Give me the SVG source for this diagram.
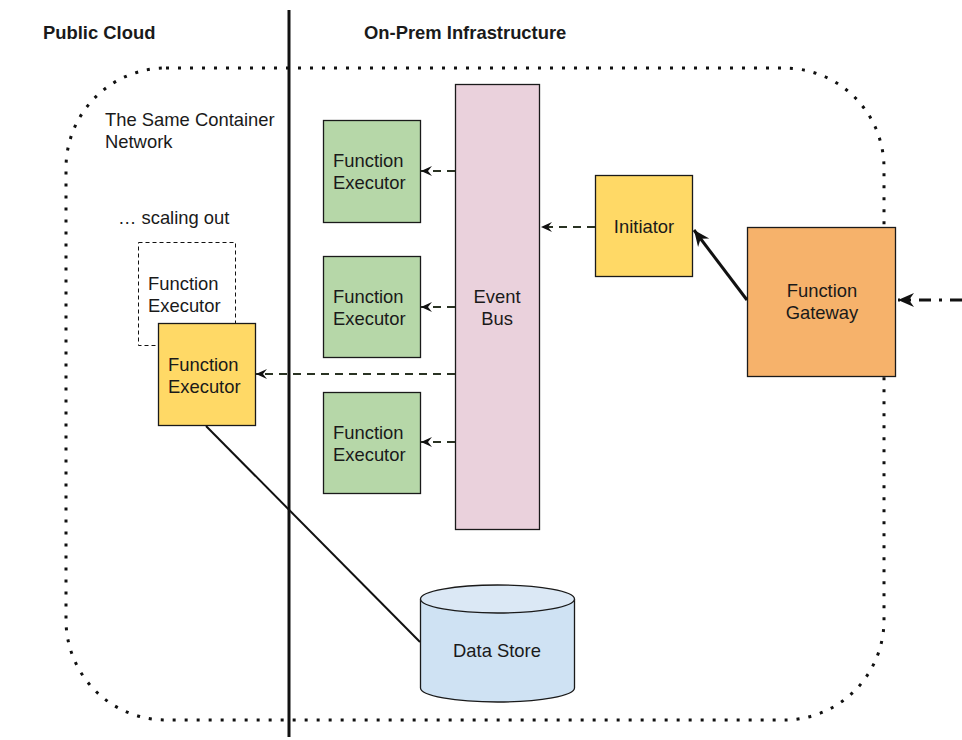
<svg xmlns="http://www.w3.org/2000/svg" width="962" height="740" viewBox="0 0 962 740">
<style>
text{font-family:"Liberation Sans",Arial,sans-serif;font-size:18.4px;fill:#1a1a1a}
.b{font-weight:bold}
.c{text-anchor:middle}
.box{stroke:#1a1a1a;stroke-width:1.3}
.dash{fill:none;stroke:#2a3323;stroke-width:2;stroke-dasharray:8 6}
</style>
<defs>
<marker id="ah" markerWidth="14" markerHeight="12" viewBox="-12 -6 14 12" refX="0" refY="0" orient="auto" markerUnits="userSpaceOnUse">
<path d="M0,0 L-11,-5 L-7,0 L-11,5 Z" fill="#111"/>
</marker>
<marker id="ahb" markerWidth="20" markerHeight="16" viewBox="-18 -8 20 16" refX="0" refY="0" orient="auto" markerUnits="userSpaceOnUse">
<path d="M0,0 L-16,-7 L-11,0 L-16,7 Z" fill="#111"/>
</marker>
</defs>
<rect width="962" height="740" fill="#fff"/>
<g id="network">
<rect x="66" y="68" width="818" height="652" rx="100" ry="100" fill="none" stroke="#111" stroke-width="3" stroke-dasharray="3 9"/>
<text x="105" y="126">The Same Container</text>
<text x="105" y="148">Network</text>
</g>
<g id="divider">
<line x1="289" y1="10" x2="289" y2="737" stroke="#111" stroke-width="3"/>
</g>
<g id="headings">
<text class="b" x="43" y="39">Public Cloud</text>
<text class="b" x="364" y="39">On-Prem Infrastructure</text>
<text x="118" y="224">… scaling out</text>
</g>
<g id="fe-ghost">
<rect x="138.5" y="242.5" width="97" height="103" fill="#fff" stroke="#111" stroke-width="1" stroke-dasharray="4 3"/>
<text x="148" y="290">Function</text>
<text x="148" y="312">Executor</text>
</g>
<g id="fe-cloud">
<rect class="box" x="158.5" y="323.5" width="97" height="102" fill="#ffd966"/>
<text x="168" y="371">Function</text>
<text x="168" y="393">Executor</text>
</g>
<g id="fe1">
<rect class="box" x="323.5" y="120.5" width="97" height="102" fill="#b6d7a8"/>
<text x="333" y="167">Function</text>
<text x="333" y="189">Executor</text>
</g>
<g id="fe2">
<rect class="box" x="323.5" y="256.5" width="97" height="101" fill="#b6d7a8"/>
<text x="333" y="303">Function</text>
<text x="333" y="325">Executor</text>
</g>
<g id="fe3">
<rect class="box" x="323.5" y="392.5" width="97" height="101" fill="#b6d7a8"/>
<text x="333" y="439">Function</text>
<text x="333" y="461">Executor</text>
</g>
<g id="event-bus">
<rect class="box" x="455.5" y="84.5" width="84" height="445" fill="#ead1dc"/>
<text class="c" x="497" y="303">Event</text>
<text class="c" x="497" y="325">Bus</text>
</g>
<g id="initiator">
<rect class="box" x="595.5" y="175.5" width="97" height="101" fill="#ffd966"/>
<text class="c" x="644" y="233">Initiator</text>
</g>
<g id="gateway">
<rect class="box" x="747.5" y="227.5" width="148" height="149" fill="#f6b26b"/>
<text class="c" x="822" y="297">Function</text>
<text class="c" x="822" y="319">Gateway</text>
</g>
<g id="data-store">
<path d="M420.5,599 L420.5,688 A77,14 0 0 0 574.5,688 L574.5,599" fill="#cfe2f3" stroke="#1a1a1a" stroke-width="1.3"/>
<ellipse cx="497.5" cy="599" rx="77" ry="14" fill="#dbe8f5" stroke="#1a1a1a" stroke-width="1.3"/>
<text class="c" x="497" y="657">Data Store</text>
</g>
<g id="connectors">
<line class="dash" x1="455" y1="171" x2="421" y2="171" marker-end="url(#ah)"/>
<line class="dash" x1="455" y1="307" x2="421" y2="307" marker-end="url(#ah)"/>
<line class="dash" x1="455" y1="442" x2="421" y2="442" marker-end="url(#ah)"/>
<line class="dash" x1="455" y1="374" x2="256" y2="374" marker-end="url(#ah)"/>
<line class="dash" x1="595" y1="227" x2="541" y2="227" marker-end="url(#ah)"/>
<line x1="747" y1="300" x2="694" y2="230" stroke="#111" stroke-width="3" marker-end="url(#ahb)"/>
<line x1="962" y1="300" x2="898" y2="300" stroke="#111" stroke-width="3" stroke-dasharray="12 8 3 8" marker-end="url(#ahb)"/>
<line x1="206" y1="426" x2="420" y2="642" stroke="#111" stroke-width="2"/>
</g>
</svg>
